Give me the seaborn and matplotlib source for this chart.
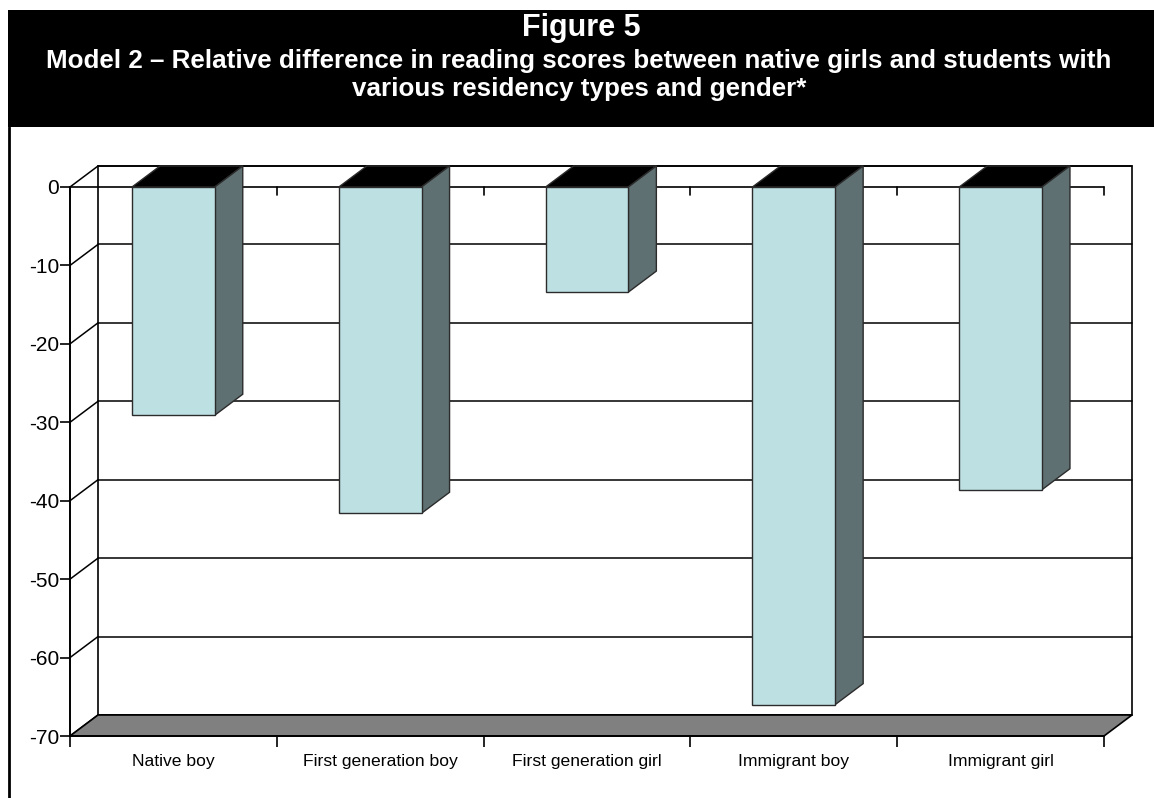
import matplotlib
matplotlib.use("Agg")
import matplotlib.pyplot as plt
from matplotlib.patches import Polygon, Rectangle
import seaborn as sns
import pandas as pd

# Data
categories = ["Native boy", "First generation boy", "First generation girl",
              "Immigrant boy", "Immigrant girl"]
values = [-29.1, -41.6, -13.4, -66.0, -38.6]
y_ticks = [0, -10, -20, -30, -40, -50, -60, -70]

title = "Figure 5"
subtitle = ("Model 2 \u2013 Relative difference in reading scores between native girls and students with\n"
            "various residency types and gender*")

FRONT = "#BDE0E3"
SIDE = "#5F7072"
TOP = "#000000"
FLOOR = "#808080"
EDGE = "#2b2b2b"

sns.set_theme(style="white")
plt.rcParams["font.family"] = ["Liberation Sans", "DejaVu Sans"]

W, H = 1154, 798
fig = plt.figure(figsize=(W / 100, H / 100), dpi=100)
fig.patch.set_facecolor("white")

# axes placed in pixel terms: front plane spans x 70..1104, y 187..736
left_px, right_px, top_px, bot_px = 70, 1104, 187, 736
ax = fig.add_axes([left_px / W, (H - bot_px) / H,
                   (right_px - left_px) / W, (bot_px - top_px) / H])
ax.set_xlim(-0.5, len(categories) - 0.5)
ax.set_ylim(-70, 0)
ax.patch.set_alpha(0)

# depth offset of the 3-D box (pixels -> data units)
dpx, dpy = 28, 21
dx = dpx * (len(categories)) / (right_px - left_px)
dy = dpy * 70 / (bot_px - top_px)

x0, x1 = -0.5, len(categories) - 0.5
ymin, ymax = -70, 0

# back wall
ax.add_patch(Polygon([(x0 + dx, ymin + dy), (x1 + dx, ymin + dy),
                      (x1 + dx, ymax + dy), (x0 + dx, ymax + dy)],
                     closed=True, facecolor="white", edgecolor="black",
                     linewidth=1.2, clip_on=False, zorder=0.5))
# gridlines on back wall and their continuation on the left wall
for v in y_ticks:
    ax.plot([x0 + dx, x1 + dx], [v + dy, v + dy], color="black", lw=1.1,
            clip_on=False, zorder=0.6)
    ax.plot([x0, x0 + dx], [v, v + dy], color="black", lw=1.1,
            clip_on=False, zorder=0.6)

# floor
ax.add_patch(Polygon([(x0, ymin), (x1, ymin), (x1 + dx, ymin + dy),
                      (x0 + dx, ymin + dy)], closed=True, facecolor=FLOOR,
                     edgecolor="black", linewidth=1.2, clip_on=False, zorder=0.7))

# category axis line at zero with ticks at category boundaries
ax.plot([x0, x1], [0, 0], color="black", lw=1.2, clip_on=False, zorder=0.8)
tick_len = 8 * 70 / (bot_px - top_px)
for b in range(len(categories) + 1):
    xb = b - 0.5
    ax.plot([xb, xb], [0, -tick_len], color="black", lw=1.2,
            clip_on=False, zorder=0.8)

# front faces of the bars
df = pd.DataFrame({"category": categories, "value": values})
sns.barplot(data=df, x="category", y="value", color=FRONT, saturation=1,
            width=0.4, edgecolor=EDGE, linewidth=1.0, ax=ax, zorder=3,
            errorbar=None)

# side and top faces built from each bar's geometry
for p in list(ax.patches):
    if not isinstance(p, Rectangle):
        continue
    bx, by = p.get_x(), p.get_y()
    bw, bh = p.get_width(), p.get_height()
    if bw <= 0 or bw > 1:
        continue
    lo, hi = min(by, by + bh), max(by, by + bh)
    bx1 = bx + bw
    ax.add_patch(Polygon([(bx, hi), (bx1, hi), (bx1 + dx, hi + dy), (bx + dx, hi + dy)],
                         closed=True, facecolor=TOP, edgecolor=EDGE, lw=1.0,
                         clip_on=False, zorder=2.5))
    ax.add_patch(Polygon([(bx1, lo), (bx1, hi), (bx1 + dx, hi + dy), (bx1 + dx, lo + dy)],
                         closed=True, facecolor=SIDE, edgecolor=EDGE, lw=1.0,
                         clip_on=False, zorder=2.5))

# axes styling
for s in ["top", "right"]:
    ax.spines[s].set_visible(False)
for s in ["left", "bottom"]:
    ax.spines[s].set_visible(True)
    ax.spines[s].set_color("black")
    ax.spines[s].set_linewidth(1.4)
    ax.spines[s].set_zorder(4)
ax.set_yticks(y_ticks)
ax.set_yticklabels([str(t) for t in y_ticks])
ax.tick_params(axis="y", which="major", left=True, length=7, width=1.2,
               color="black", labelsize=15, pad=1, labelcolor="black")
ax.set_xticks(range(len(categories)))
ax.set_xticklabels(categories)
ax.set_xticks([b - 0.5 for b in range(len(categories) + 1)], minor=True)
ax.tick_params(axis="x", which="major", bottom=False, labelsize=12.6,
               pad=7, labelcolor="black")
ax.tick_params(axis="x", which="minor", bottom=True, length=8, width=1.2,
               color="black")
ax.set_xlabel("")
ax.set_ylabel("")
ax.grid(False)

# title band
fig.patches.append(Rectangle((8 / W, (H - 127) / H), (W - 8) / W, 117 / H,
                             transform=fig.transFigure, facecolor="black",
                             edgecolor="none", zorder=0))
fig.text(0.5 + 4 / W, 1 - 28 / H, title, ha="center", va="center",
         color="white", fontsize=22, fontweight="bold")
fig.text(0.5 + 2 / W, 1 - 75 / H, subtitle, ha="center", va="center",
         color="white", fontsize=18.7, fontweight="bold", linespacing=1.2)

# left frame line
fig.lines.append(plt.Line2D([9 / W, 9 / W], [0, (H - 127) / H],
                            transform=fig.transFigure, color="black", lw=2))

fig.savefig("out.png", dpi=100, facecolor="white")
